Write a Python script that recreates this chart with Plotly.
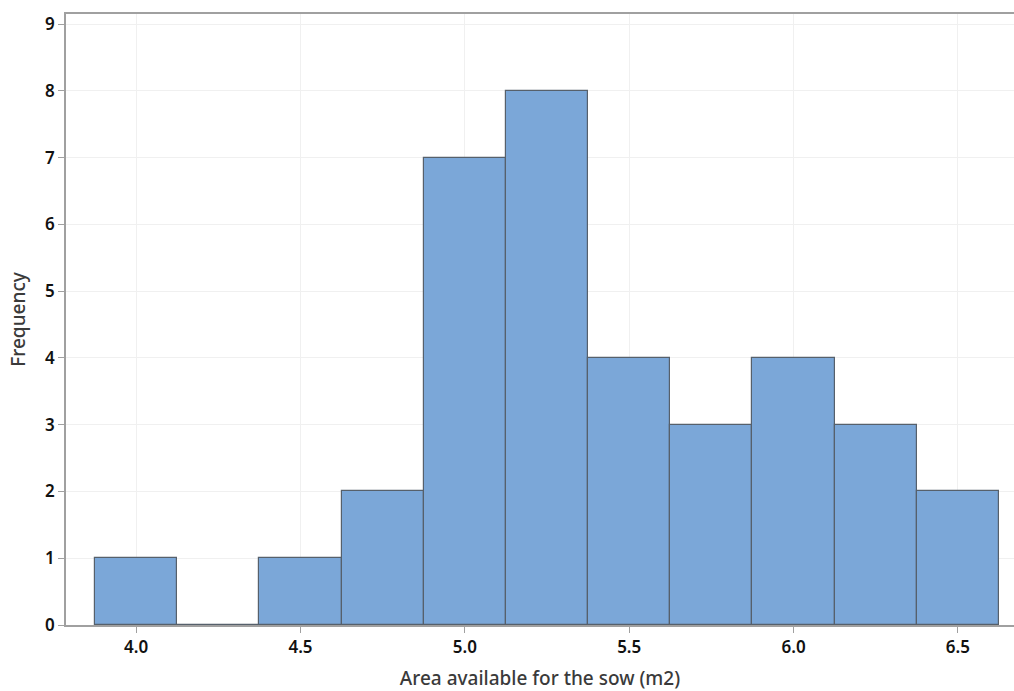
import plotly.graph_objects as go

bin_centers = [4.0, 4.25, 4.5, 4.75, 5.0, 5.25, 5.5, 5.75, 6.0, 6.25, 6.5]
frequencies = [1, 0, 1, 2, 7, 8, 4, 3, 4, 3, 2]
bin_width = 0.25
x_ticks = [4.0, 4.5, 5.0, 5.5, 6.0, 6.5]
x_tick_labels = ["4.0", "4.5", "5.0", "5.5", "6.0", "6.5"]
y_ticks = list(range(0, 10))

fig = go.Figure(
    go.Bar(
        x=bin_centers,
        y=frequencies,
        width=[bin_width] * len(bin_centers),
        marker=dict(color="#7BA7D8", line=dict(color="#56606b", width=1.2)),
    )
)

base_family = "Noto Sans, Open Sans, sans-serif"
fig.update_layout(
    width=1014,
    height=691,
    margin=dict(l=66, r=0, t=14, b=66),
    plot_bgcolor="white",
    paper_bgcolor="white",
    showlegend=False,
    bargap=0,
    font=dict(family=base_family, size=17, color="#111111"),
    xaxis=dict(
        range=[3.7866, 6.6707],
        tickvals=x_ticks,
        ticktext=x_tick_labels,
        ticks="outside",
        ticklen=6,
        tickcolor="#a0a0a0",
        showline=True,
        linecolor="#a0a0a0",
        linewidth=1.5,
        mirror=True,
        showgrid=True,
        gridcolor="#f0f0f0",
        zeroline=False,
        title=dict(text="Area available for the sow (m2)",
                   font=dict(family=base_family, size=19, color="#3a3a3a", weight=500), standoff=16),
        tickfont=dict(family=base_family, size=17, color="#111111", weight=600),
    ),
    yaxis=dict(
        range=[0, 9.15],
        tickvals=y_ticks,
        ticks="outside",
        ticklen=6,
        tickcolor="#a0a0a0",
        showline=True,
        linecolor="#a0a0a0",
        linewidth=1.5,
        showgrid=True,
        gridcolor="#f0f0f0",
        zeroline=False,
        title=dict(text="Frequency",
                   font=dict(family=base_family, size=19, color="#3a3a3a", weight=500), standoff=14),
        tickfont=dict(family=base_family, size=17, color="#111111", weight=600),
    ),
)

fig.write_html(
    "out.html",
    config={"displayModeBar": False},
    post_script="document.body.style.margin='0';document.body.style.overflow='hidden';",
)
